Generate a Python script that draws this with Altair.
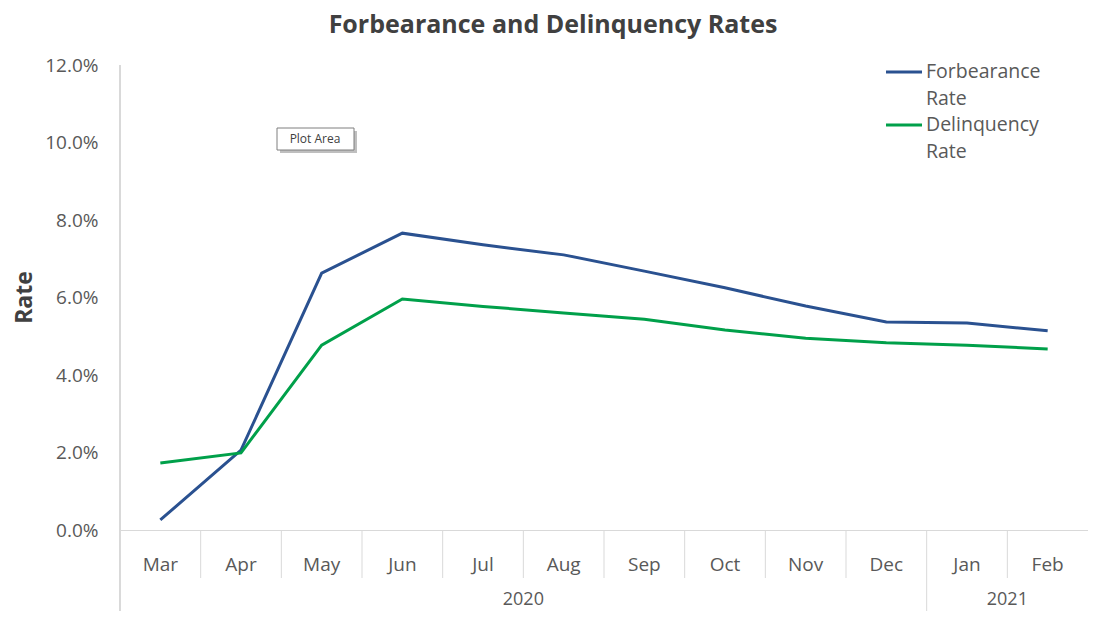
import altair as alt
import pandas as pd

months = ["Mar", "Apr", "May", "Jun", "Jul", "Aug", "Sep", "Oct", "Nov", "Dec", "Jan", "Feb"]
forbearance = [0.26, 2.06, 6.63, 7.66, 7.36, 7.10, 6.68, 6.25, 5.78, 5.37, 5.34, 5.14]
delinquency = [1.73, 1.99, 4.77, 5.96, 5.77, 5.60, 5.44, 5.16, 4.95, 4.83, 4.77, 4.67]
series_names = ["Forbearance Rate", "Delinquency Rate"]
series_colors = ["#2A5190", "#00A04A"]
year_labels = ["2020", "2021"]
year_anchor = ["Aug", "Feb"]      # month whose band start is the year label centre
year_start = ["Jan"]              # month where a new year begins

FONT = "Open Sans"
GRID = "#D9D9D9"
TXT = "#595959"

rows = []
for m, f, d in zip(months, forbearance, delinquency):
    rows.append({"month": m, "series": series_names[0], "rate": f / 100})
    rows.append({"month": m, "series": series_names[1], "rate": d / 100})
df = pd.DataFrame(rows)
sep_df = pd.DataFrame({"month": months})
year_df = pd.DataFrame({"month": year_anchor, "year": year_labels})
ystart_df = pd.DataFrame({"month": year_start})
legend_df = pd.DataFrame({"series": series_names})

W, H = 968, 465
xscale = alt.Scale(type="band", domain=months, paddingInner=0, paddingOuter=0)
cscale = alt.Scale(domain=series_names, range=series_colors)

lines = alt.Chart(df).mark_line(strokeWidth=3).encode(
    x=alt.X("month:N", scale=xscale, bandPosition=0.5, sort=months,
            axis=alt.Axis(title=None, labelAngle=0, ticks=False, grid=False,
                          bandPosition=0.5, labelAlign="center",
                          domainColor=GRID, domainWidth=1, labelFont=FONT,
                          labelFontSize=19, labelColor=TXT, labelPadding=34)),
    y=alt.Y("rate:Q", scale=alt.Scale(domain=[0, 0.12], nice=False),
            axis=alt.Axis(title="Rate", values=[0, 0.02, 0.04, 0.06, 0.08, 0.10, 0.12],
                          format=".1%", grid=False, ticks=False, domainColor=GRID,
                          labelFont=FONT, labelFontSize=19, labelColor=TXT, labelPadding=22,
                          titleFont=FONT, titleFontSize=23, titleFontWeight="bold",
                          titleColor="#404040", titleX=-96, titleY=232,
                          titleAngle=270, titleAlign="center", titleBaseline="middle")),
    color=alt.Color("series:N", scale=cscale, legend=None),
)

seps = alt.Chart(sep_df).mark_rule(color=GRID, strokeWidth=1).encode(
    x=alt.X("month:N", scale=xscale, bandPosition=0, sort=months),
    y=alt.value(H), y2=alt.value(H + 48),
)

ysep = alt.Chart(ystart_df).mark_rule(color=GRID, strokeWidth=1).encode(
    x=alt.X("month:N", scale=xscale, bandPosition=0, sort=months),
    y=alt.value(H + 48), y2=alt.value(H + 100),
)

left_line = alt.Chart(sep_df).mark_rule(color=GRID, strokeWidth=1).encode(
    x=alt.value(0), y=alt.value(0), y2=alt.value(H + 100),
)

years = alt.Chart(year_df).mark_text(font=FONT, fontSize=18, color=TXT, baseline="middle").encode(
    x=alt.X("month:N", scale=xscale, bandPosition=0, sort=months),
    y=alt.value(H + 70),
    text="year:N",
)

# legend (top right), one entry per series
leg_y = alt.Y("series:N", axis=None,
              scale=alt.Scale(type="point", domain=series_names, range=[7, 60], padding=0))
leg_sym = alt.Chart(legend_df).mark_rule(strokeWidth=3).encode(
    x=alt.value(766), x2=alt.value(802), y=leg_y,
    color=alt.Color("series:N", scale=cscale, legend=None),
)
leg_txt = alt.Chart(legend_df).mark_text(
    font=FONT, fontSize=19.5, color=TXT, align="left", baseline="middle",
    lineBreak=" ", lineHeight=27,
).encode(x=alt.value(806), y=leg_y, text="series:N")

tip_box = alt.Chart(year_df.head(1)).mark_rect(
    fill="white", stroke="#7F7F7F", strokeWidth=1,
).encode(x=alt.value(157), x2=alt.value(234), y=alt.value(63), y2=alt.value(85))
tip_shadow = alt.Chart(year_df.head(1)).mark_rect(fill="#BFBFBF").encode(
    x=alt.value(160), x2=alt.value(237), y=alt.value(66), y2=alt.value(88))
tip_text = alt.Chart(year_df.head(1)).mark_text(
    font=FONT, fontSize=12, color="#404040", baseline="middle", align="center",
).encode(x=alt.value(195), y=alt.value(74), text=alt.value("Plot Area"))

chart = alt.layer(
    left_line, seps, ysep, years, lines, leg_sym, leg_txt, tip_shadow, tip_box, tip_text
).resolve_scale(y="independent").properties(
    width=W, height=H,
    autosize=alt.AutoSizeParams(type="none"),
    padding={"left": 112, "top": 57, "right": 0, "bottom": 81},
    title=alt.TitleParams("Forbearance and Delinquency Rates", font=FONT, fontSize=25,
                          fontWeight="bold", color="#404040", anchor="middle",
                          dx=-51, offset=18),
).configure_view(stroke=None)

chart.save("out.html", embed_options={"renderer": "svg", "actions": False})
